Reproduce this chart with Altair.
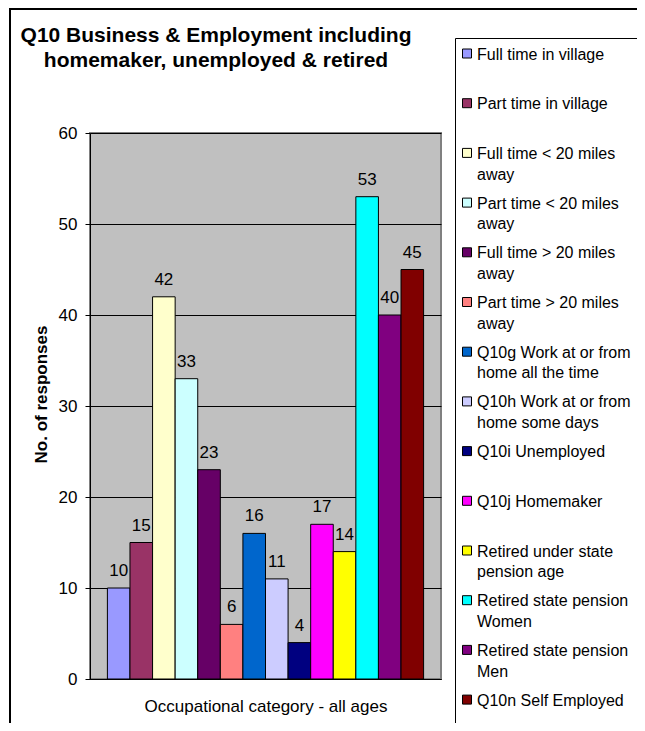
import altair as alt
import pandas as pd

FONT = "Liberation Sans"

categories = [
    "Full time in village",
    "Part time in village",
    "Full time < 20 miles away",
    "Part time < 20 miles away",
    "Full time > 20 miles away",
    "Part time > 20 miles away",
    "Q10g Work at or from home all the time",
    "Q10h Work at or from home some days",
    "Q10i Unemployed",
    "Q10j Homemaker",
    "Retired under state pension age",
    "Retired state pension Women",
    "Retired state pension Men",
    "Q10n Self Employed",
]
legend_labels = [
    "Full time in village",
    "Part time in village",
    "Full time < 20 miles|away",
    "Part time < 20 miles|away",
    "Full time > 20 miles|away",
    "Part time > 20 miles|away",
    "Q10g Work at or from|home all the time",
    "Q10h Work at or from|home some days",
    "Q10i Unemployed",
    "Q10j Homemaker",
    "Retired under state|pension age",
    "Retired state pension|Women",
    "Retired state pension|Men",
    "Q10n Self Employed",
]
values = [10, 15, 42, 33, 23, 6, 16, 11, 4, 17, 14, 53, 40, 45]
colors = [
    "#9999FF", "#993366", "#FFFFCC", "#CCFFFF", "#660066", "#FF8080", "#0066CC",
    "#CCCCFF", "#000080", "#FF00FF", "#FFFF00", "#00FFFF", "#800080", "#800000",
]
y_ticks = [0, 10, 20, 30, 40, 50, 60]
title_lines = ["Q10 Business & Employment including", "homemaker, unemployed & retired"]
x_title = "Occupational category - all ages"
y_title = "No. of responses"

df = pd.DataFrame({
    "category": categories,
    "value": values,
    "legend_label": legend_labels,
    "idx": list(range(len(categories))),
})
one = pd.DataFrame({"a": [0]})

color_enc = alt.Color("category:N", sort=categories,
                      scale=alt.Scale(domain=categories, range=colors), legend=None)

# decorative frames (chart area border and legend box)
frame = alt.Chart(one).mark_rect(fill="transparent", stroke="black", strokeWidth=2).encode(
    x=alt.value(-80), x2=alt.value(700), y=alt.value(-124), y2=alt.value(800))
legend_box = alt.Chart(one).mark_rect(fill="white", stroke="black", strokeWidth=1).encode(
    x=alt.value(365.5), x2=alt.value(700), y=alt.value(-94.5), y2=alt.value(800))
title = alt.Chart(one).mark_text(text=title_lines, fontSize=21, fontWeight="bold", font=FONT,
                                 align="center", baseline="alphabetic", lineHeight=25,
                                 color="black").encode(x=alt.value(126), y=alt.value(-91.3))

x_enc = alt.X("category:N", sort=categories,
              scale=alt.Scale(paddingInner=0, paddingOuter=0.77),
              axis=alt.Axis(title=x_title, labels=False, ticks=False, domainColor="black",
                            titlePadding=19, titleFontSize=17, titleFontWeight="normal",
                            titleFont=FONT, titleColor="black"))
y_enc = alt.Y("value:Q", scale=alt.Scale(domain=[0, 60], nice=False),
              axis=alt.Axis(values=y_ticks, title=y_title, titleFontSize=17,
                            titleFontWeight="bold", titleFont=FONT, titleColor="black",
                            titleX=-49, titleY=261, titleAlign="center",
                            titleBaseline="middle", titleAngle=270,
                            labelFontSize=17, labelFont=FONT, labelColor="black",
                            labelPadding=8, tickSize=5, tickColor="black",
                            domainColor="black", gridColor="black", gridWidth=1))

bars = alt.Chart(df).mark_bar(stroke="black", strokeWidth=1, opacity=1).encode(
    x=x_enc, y=y_enc, color=color_enc)
bar_labels = alt.Chart(df).mark_text(fontSize=17, font=FONT, color="black",
                                     baseline="alphabetic", dy=-12).encode(
    x=alt.X("category:N", sort=categories), y=alt.Y("value:Q"), text="value:Q")
plot = alt.layer(bars, bar_labels)

leg_y = alt.Y("idx:Q", scale=alt.Scale(domain=[0, 13], range=[-79.5, 566.6], nice=False,
                                       zero=False), axis=None)
symbols = alt.Chart(df).mark_square(size=81, stroke="black", strokeWidth=1, opacity=1).encode(
    x=alt.value(377), y=leg_y, color=color_enc)
sym_text = alt.Chart(df).mark_text(align="left", baseline="alphabetic", dy=6, lineBreak="|",
                                   lineHeight=20.7, fontSize=16, font=FONT,
                                   color="black").encode(
    x=alt.value(387), y=leg_y, text="legend_label:N")
legend = alt.layer(symbols, sym_text)

chart = alt.layer(frame, legend_box, title, plot, legend).resolve_scale(
    y="independent"
).properties(
    width=351, height=546,
    autosize=alt.AutoSizeParams(type="none"),
    padding={"left": 82, "top": 125, "right": 196, "bottom": 44},
    background="white",
).configure_view(
    fill="#C0C0C0", stroke="#808080", strokeWidth=2
)

chart.save("out.html", embed_options={"renderer": "svg", "actions": False})
